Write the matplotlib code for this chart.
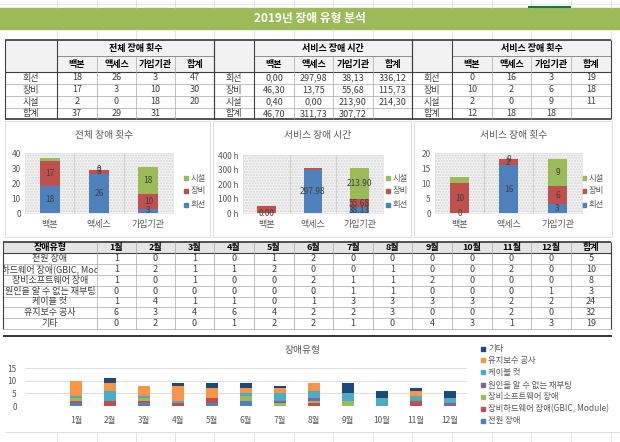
import matplotlib
matplotlib.use('Agg')
import matplotlib.pyplot as plt
from matplotlib.patches import Rectangle
from matplotlib.transforms import Bbox, TransformedBbox
import numpy as np

plt.rcParams['font.family'] = ['Noto Sans CJK KR', 'DejaVu Sans']

# ---------------- data ----------------
title = '2019년 장애 유형 분석'
sites = ['백본', '액세스', '가입기관']
causes = ['회선', '장비', '시설']
col_heads = ['백본', '액세스', '가입기관', '합계']
row_heads = ['회선', '장비', '시설', '합계']

# 전체 장애 횟수
cnt_circuit = [18, 26, 3]
cnt_equip = [17, 3, 10]
cnt_facility = [2, 0, 18]
cnt_row_tot = [47, 30, 20]
cnt_col_tot = [37, 29, 31]

# 서비스 장애 시간
time_circuit = [0.00, 297.98, 38.13]
time_equip = [46.30, 13.75, 55.68]
time_facility = [0.40, 0.00, 213.90]
time_row_tot = [336.12, 115.73, 214.30]
time_col_tot = [46.70, 311.73, 307.72]

# 서비스 장애 횟수
svc_circuit = [0, 16, 3]
svc_equip = [10, 2, 6]
svc_facility = [2, 0, 9]
svc_row_tot = [19, 18, 11]
svc_col_tot = [12, 18, 18]

# monthly failure types
months = ['1월', '2월', '3월', '4월', '5월', '6월', '7월', '8월', '9월', '10월', '11월', '12월']
types = ['전원 장애', '장비하드웨어 장애(GBIC, Module)', '장비소프트웨어 장애',
         '원인을 알 수 없는 재부팅', '케이블 컷', '유지보수 공사', '기타']
m_power = [1, 0, 1, 0, 1, 2, 0, 0, 0, 0, 0, 0]
m_hw = [1, 2, 1, 1, 2, 0, 0, 1, 0, 0, 2, 0]
m_sw = [1, 0, 1, 0, 0, 2, 1, 1, 2, 0, 0, 0]
m_reboot = [0, 0, 0, 0, 0, 0, 1, 1, 0, 0, 0, 1]
m_cable = [1, 4, 1, 1, 0, 1, 3, 3, 3, 3, 2, 2]
m_maint = [6, 3, 4, 6, 4, 2, 2, 3, 0, 0, 2, 0]
m_other = [0, 2, 0, 1, 2, 2, 1, 0, 4, 3, 1, 3]
m_totals = [5, 10, 8, 3, 24, 32, 19]

# ---------------- styles ----------------
W, H = 620, 442
C_BLUE, C_RED, C_GREEN = '#4F81BD', '#C0504D', '#9BBB59'
C_PURPLE, C_CYAN, C_ORANGE, C_DARK = '#8064A2', '#4BACC6', '#F79646', '#1F497D'
TXT = '#404040'
GRAYTXT = '#595959'
GRID = '#d9d9d9'

fig = plt.figure(figsize=(6.2, 4.42), dpi=100)
bg = fig.add_axes([0, 0, 1, 1])
bg.set_xlim(0, W)
bg.set_ylim(H, 0)
bg.axis('off')


def frac(x0, y0, x1, y1):
    return [x0 / W, 1 - y1 / H, (x1 - x0) / W, (y1 - y0) / H]


def hl(y, x0, x1, c='#a6a6a6', lw=0.5, z=3):
    bg.plot([x0, x1], [y, y], color=c, lw=lw, solid_capstyle='butt', zorder=z)


def vl(x, y0, y1, c='#a6a6a6', lw=0.5, z=3):
    bg.plot([x, x], [y0, y1], color=c, lw=lw, solid_capstyle='butt', zorder=z)


cols = [5, 57, 97, 136, 175, 214, 254, 294, 333, 373, 412, 452, 492, 531, 571, 611]

# spreadsheet gridlines on top row and empty row
for x in cols[1:]:
    vl(x, 0, 8, c=GRID, lw=0.5)
    vl(x, 29, 40, c=GRID, lw=0.5)
hl(4, 0, 620, c=GRID, lw=0.4)
hl(6.5, 528, 571, c='#217346', lw=1.5)

# title bar
bg.add_patch(Rectangle((0, 8), 620, 21, color=C_GREEN, zorder=2))
bg.text(310, 18.5, title, ha='center', va='center', color='white',
        fontsize=8.5, fontweight='bold', zorder=4)

# ---------------- top tables ----------------
ry = [40, 56, 72, 84, 96, 108, 119]
tables = [
    ('전체 장애 횟수', [cnt_circuit, cnt_equip, cnt_facility], cnt_row_tot, cnt_col_tot, 'int'),
    ('서비스 장애 시간', [time_circuit, time_equip, time_facility], time_row_tot, time_col_tot, 'time'),
    ('서비스 장애 횟수', [svc_circuit, svc_equip, svc_facility], svc_row_tot, svc_col_tot, 'int'),
]


def fmt_cell(v, kind):
    if kind == 'time':
        return f'{v:.2f}'.replace('.', ',')
    return f'{v:d}'


for t, (ttl, rows, rtot, ctot, kind) in enumerate(tables):
    L = t * 5
    xs = cols[L:L + 6]
    bg.add_patch(Rectangle((xs[0], ry[0]), xs[5] - xs[0], ry[2] - ry[0],
                           facecolor='#f2f2f2', edgecolor='none', zorder=1))
    bg.text((xs[1] + xs[5]) / 2, (ry[0] + ry[1]) / 2, ttl, ha='center', va='center',
            fontsize=6.5, fontweight='bold', color='#000000', zorder=4)
    for j, h in enumerate(col_heads):
        bg.text((xs[j + 1] + xs[j + 2]) / 2, (ry[1] + ry[2]) / 2, h, ha='center', va='center',
                fontsize=6.5, fontweight='bold', color='#000000', zorder=4)
    for i in range(4):
        yc = (ry[i + 2] + ry[i + 3]) / 2
        bg.text((xs[0] + xs[1]) / 2, yc, row_heads[i], ha='center', va='center',
                fontsize=6.5, color=TXT, zorder=4)
        if i < 3:
            vals = list(rows[i]) + [rtot[i]]
        else:
            vals = list(ctot)
        for j, v in enumerate(vals):
            bg.text((xs[j + 1] + xs[j + 2]) / 2, yc, fmt_cell(v, kind), ha='center', va='center',
                    fontsize=6.5, color=TXT, zorder=4)
    # lines
    hl(ry[0], xs[0], xs[5], c='#262626', lw=1.1)
    hl(ry[1], xs[1], xs[5], c='#7f7f7f', lw=0.6)
    hl(ry[2], xs[0], xs[5], c='#404040', lw=0.8)
    for y in ry[3:6]:
        hl(y, xs[0], xs[5])
    hl(ry[6], xs[0], xs[5], c='#262626', lw=1.1)
    vl(xs[0], ry[0], ry[6], c='#404040', lw=0.8)
    vl(xs[1], ry[0], ry[6], c='#404040', lw=0.8)
    vl(xs[5], ry[0], ry[6], c='#404040', lw=0.8)
    for x in xs[2:5]:
        vl(x, ry[1], ry[6])

# ---------------- three stacked charts ----------------
def chart(panel, plot, ymax, step, ttl, series, show, kind, leg_x, unit=''):
    px0, py0, px1, py1 = panel
    bg.add_patch(Rectangle((px0, py0), px1 - px0, py1 - py0, facecolor='white',
                           edgecolor='#d9d9d9', lw=0.6, zorder=1))
    ax = fig.add_axes(frac(*plot))
    ax.set_facecolor('#f4f4f4')
    ax.add_patch(Rectangle((0, 0), 1, 1, transform=ax.transAxes, facecolor='none',
                           edgecolor='#d4d4d4', hatch='......', lw=0, zorder=0))
    x = np.arange(len(sites))
    bottom = np.zeros(len(sites))
    colors = [C_BLUE, C_RED, C_GREEN]
    for s, (vals, col, sh) in enumerate(zip(series, colors, show)):
        vals = np.array(vals, dtype=float)
        ax.bar(x, vals, 0.4, bottom=bottom, color=col, zorder=3)
        for i in range(len(sites)):
            if sh[i]:
                lab = f'{vals[i]:.2f}' if kind == 'time' else f'{int(vals[i])}'
                ax.text(x[i], bottom[i] + vals[i] / 2, lab, ha='center', va='center',
                        fontsize=6, color=TXT, zorder=5)
        bottom = bottom + vals
    for b in [0.5, 1.5]:
        ax.axvline(b, color='#d0d0d0', lw=0.8, zorder=1)
    ax.set_xlim(-0.5, 2.5)
    ax.set_ylim(0, ymax)
    yt = np.arange(0, ymax + 0.01, step)
    ax.set_yticks(yt)
    ax.set_yticklabels([f'{int(v)}{unit}' for v in yt])
    ax.set_xticks(x)
    ax.set_xticklabels(sites)
    ax.tick_params(axis='both', length=0, colors=GRAYTXT)
    ax.tick_params(axis='y', labelsize=6, pad=3)
    ax.tick_params(axis='x', labelsize=6.5, pad=5)
    for sp in ax.spines.values():
        sp.set_color('#e0e0e0')
        sp.set_linewidth(0.5)
    bg.text((plot[0] + plot[2]) / 2 + 5, 135, ttl, ha='center', va='center',
            fontsize=7, color=GRAYTXT, zorder=4)
    for k, (name, col, yy) in enumerate(zip(['시설', '장비', '회선'], [C_GREEN, C_RED, C_BLUE],
                                           [178, 191, 205])):
        bg.add_patch(Rectangle((leg_x, yy - 2), 4, 4, color=col, zorder=4))
        bg.text(leg_x + 7, yy, name, ha='left', va='center', fontsize=6, color=GRAYTXT, zorder=4)


chart((5, 121, 210, 237), (25, 153, 173, 213), 40, 10, '전체 장애 횟수',
      [cnt_circuit, cnt_equip, cnt_facility],
      [[1, 1, 1], [1, 1, 1], [0, 1, 1]], 'int', 184)
chart((213, 121, 411, 237), (243, 155, 383, 213), 400, 100, '서비스 장애 시간',
      [time_circuit, time_equip, time_facility],
      [[1, 1, 1], [0, 0, 1], [0, 0, 1]], 'time', 386, unit=' h')
chart((414, 121, 612, 237), (435, 153, 582, 213), 20, 5, '서비스 장애 횟수',
      [svc_circuit, svc_equip, svc_facility],
      [[1, 1, 1], [1, 1, 1], [0, 1, 1]], 'int', 582)

# ---------------- monthly table ----------------
mcols = [3, 97, 136, 175, 214, 254, 294, 333, 373, 412, 452, 492, 531, 571, 611]
my0, my1 = 242, 253.3
rh = (329 - my1) / 7
mrows = [m_power, m_hw, m_sw, m_reboot, m_cable, m_maint, m_other]
bg.add_patch(Rectangle((mcols[0], my0), mcols[-1] - mcols[0], my1 - my0,
                       facecolor='#e4e4e4', edgecolor='none', zorder=1))
bg.text((mcols[0] + mcols[1]) / 2, (my0 + my1) / 2, '장애유형', ha='center', va='center',
        fontsize=6.5, fontweight='bold', zorder=4)
for j, h in enumerate(months + ['합계']):
    bg.text((mcols[j + 1] + mcols[j + 2]) / 2, (my0 + my1) / 2, h, ha='center', va='center',
            fontsize=6.5, fontweight='bold', zorder=4)
clipbox = TransformedBbox(Bbox([[mcols[0], my1], [mcols[1], 329]]), bg.transData)
for i, (name, vals) in enumerate(zip(types, mrows)):
    yc = my1 + rh * (i + 0.5)
    tx = bg.text((mcols[0] + mcols[1]) / 2, yc, name, ha='center', va='center',
                 fontsize=6.5, color=TXT, zorder=4, clip_on=True)
    tx.set_clip_box(clipbox)
    for j, v in enumerate(list(vals) + [m_totals[i]]):
        bg.text((mcols[j + 1] + mcols[j + 2]) / 2, yc, str(v), ha='center', va='center',
                fontsize=6.5, color=TXT, zorder=4)
hl(my0, mcols[0], mcols[-1], c='#262626', lw=1.1)
hl(my1, mcols[0], mcols[-1], c='#404040', lw=0.8)
for i in range(1, 8):
    hl(my1 + rh * i, mcols[0], mcols[-1])
for k, x in enumerate(mcols):
    vl(x, my0, 329, c='#404040' if k in (0, len(mcols) - 1) else '#a6a6a6',
       lw=0.8 if k in (0, len(mcols) - 1) else 0.5)

hl(336, 3, 612, c='#262626', lw=1.3)

# ---------------- monthly stacked chart ----------------
bax = fig.add_axes(frac(25, 368, 467, 406))
mcolors = [C_BLUE, C_RED, C_GREEN, C_PURPLE, C_CYAN, C_ORANGE, C_DARK]
xm = np.arange(1, 13)
bottom = np.zeros(12)
for vals, col in zip(mrows, mcolors):
    vals = np.array(vals, dtype=float)
    bax.bar(xm, vals, 0.38, bottom=bottom, color=col, zorder=3)
    bottom = bottom + vals
bax.set_xlim(-0.5, 12.5)
bax.set_ylim(0, 15)
bax.set_yticks([0, 5, 10, 15])
bax.set_xticks(xm)
bax.set_xticklabels(months)
bax.yaxis.grid(True, color=GRID, lw=0.6, zorder=0)
bax.set_axisbelow(True)
for sp in bax.spines.values():
    sp.set_visible(False)
bax.tick_params(axis='both', length=0, colors=GRAYTXT, labelsize=6)
bax.tick_params(axis='x', pad=7)
bax.tick_params(axis='y', pad=6)
bg.text(303, 350, '장애유형', ha='center', va='center', fontsize=7, color=GRAYTXT, zorder=4)
leg_y = [421, 409, 397, 385, 372, 360, 349]
for name, col, yy in zip(types, mcolors, leg_y):
    bg.add_patch(Rectangle((481, yy - 2), 4, 4, color=col, zorder=4))
    bg.text(488, yy, name, ha='left', va='center', fontsize=6, color=GRAYTXT, zorder=4)

# bottom spreadsheet gridlines
hl(432, 5, 620, c=GRID, lw=0.6)
for x in cols[1:]:
    vl(x, 432, 442, c=GRID, lw=0.5)

fig.savefig('out.png', dpi=100)
